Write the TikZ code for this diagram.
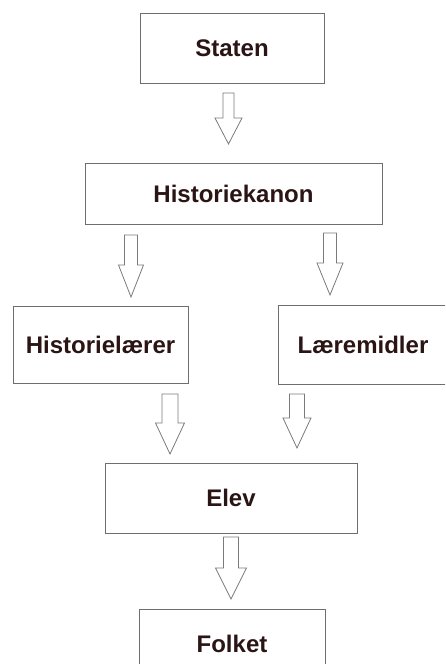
\documentclass[tikz,border=0pt]{standalone}
\usepackage{fontspec}
\usepackage{xcolor}
\usepackage{tikz}
\setmainfont{Liberation Sans}
\usetikzlibrary{calc}

\definecolor{boxline}{HTML}{6E6E6E}
\definecolor{arrline}{HTML}{7A7A7A}
\definecolor{boxtext}{HTML}{2A1414}

\begin{document}
\begin{tikzpicture}[x=1pt,y=-1pt]
            \tikzset{box/.style = {draw=boxline, line width=0.9pt, inner sep=0pt, text=boxtext,
                                   font=\fontsize{24}{28}\selectfont\bfseries}}
            \tikzset{hollow/.style n args = {3}{draw=arrline, line width=0.8pt, to path={
                let \p1=(\tikztostart), \p2=(\tikztotarget) in
                (\x1-#1,\y1) -- (\x1-#1,\y2+#3) -- (\x1-#2,\y2+#3) -- (\x2,\y2)
                -- (\x1+#2,\y2+#3) -- (\x1+#1,\y2+#3) -- (\x1+#1,\y1) -- cycle}}}

            \useasboundingbox (0,0) rectangle (445,664);
            \clip (0,0) rectangle (445,664);

            % boxes
            \node[box, minimum width=184, minimum height=70] (staten) at (232,48) {Staten};
            \node[box, minimum width=297, minimum height=61] (kanon) at (233.5,193.5) {Historiekanon};
            \node[box, minimum width=175, minimum height=77] (laerer) at (100.5,344.5) {Historielærer};
            \node[box, minimum width=170, minimum height=79] (midler) at (363,344.5) {Læremidler};
            \node[box, minimum width=252, minimum height=70] (elev) at (231,498) {Elev};
            \node[box, minimum width=186, minimum height=70] (folket) at (232,644) {Folket};

            % arrows
            \foreach \n/\x/\ys/\ye in {a1/228.5/93/144, a2/131/235/297, a3/330/233/295,
                                       a4/170/394/454, a5/297/394/448, a6/231/537/599}
            {
              \coordinate (\n s) at (\x,\ys);
              \coordinate (\n e) at (\x,\ye);
            }
            \draw[hollow={5.5}{13.5}{26}] (a1s) to (a1e);
            \draw[hollow={6.5}{12.5}{32}] (a2s) to (a2e);
            \draw[hollow={6.5}{13}{32}] (a3s) to (a3e);
            \draw[hollow={8}{14.5}{31}] (a4s) to (a4e);
            \draw[hollow={7.5}{14}{30}] (a5s) to (a5e);
            \draw[hollow={7.5}{15.5}{31}] (a6s) to (a6e);

          \end{tikzpicture}
\end{document}
